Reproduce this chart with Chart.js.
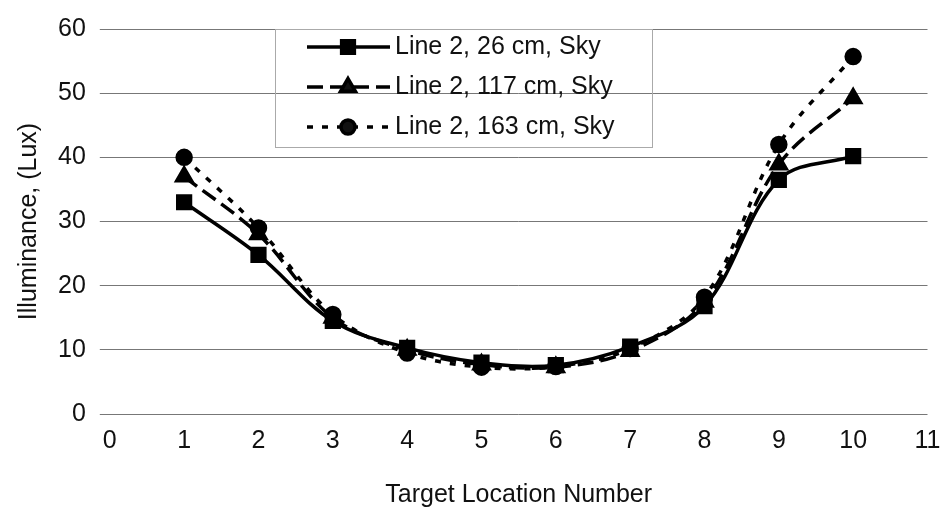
<!DOCTYPE html>
<html>
<head>
<meta charset="utf-8">
<script src="https://cdn.jsdelivr.net/npm/chart.js@4/dist/chart.umd.min.js"></script>
<style>
  html, body { margin: 0; padding: 0; background: #fff; }
  #wrap { width: 940px; height: 514px; }
</style>
</head>
<body>
<div id="wrap"><canvas id="c"></canvas></div>
<script>
// valeurs
const locations = [1, 2, 3, 4, 5, 6, 7, 8, 9, 10];
const labels = ['Line 2, 26 cm, Sky', 'Line 2, 117 cm, Sky', 'Line 2, 163 cm, Sky'];
const lux26 = [33, 24.8, 14.5, 10.3, 8, 7.6, 10.5, 16.8, 36.5, 40.2];
const lux117 = [37, 28, 15, 10, 7.7, 7.3, 9.8, 17.5, 38.9, 49.2];
const lux163 = [40, 29, 15.5, 9.5, 7.3, 7.4, 10.2, 18.2, 42, 55.7];
const xTicks = [0, 1, 2, 3, 4, 5, 6, 7, 8, 9, 10, 11];
const yTicks = [0, 10, 20, 30, 40, 50, 60];

const FONT = 'Liberation Sans, Arial, sans-serif';
const INK = '#111';

function toPoints(values) {
    return locations.map((x, i) => ({x: x, y: values[i]}));
}

// légende dessinée à la main : trait + marqueur comme dans Excel
const legendBox = {
    id: 'legendBox',
    afterDraw(chart) {
        const ctx = chart.ctx;
        const left = 275, top = 29, width = 377, height = 118;
        ctx.save();
        ctx.strokeStyle = '#aaa';
        ctx.lineWidth = 1;
        ctx.strokeRect(left + 0.5, top + 0.5, width, height);
        chart.data.datasets.forEach((ds, i) => {
            const y = 47 + i * 40;
            ctx.strokeStyle = ds.borderColor;
            ctx.lineWidth = ds.borderWidth;
            ctx.setLineDash(ds.borderDash || []);
            ctx.beginPath();
            ctx.moveTo(307, y);
            ctx.lineTo(390, y);
            ctx.stroke();
            ctx.setLineDash([]);
            Chart.helpers.drawPoint(ctx, {
                pointStyle: ds.pointStyle,
                radius: ds.pointRadius,
                borderWidth: 1,
                rotation: 0
            }, 348, y);
            ctx.fillStyle = INK;
            ctx.font = '25px ' + FONT;
            ctx.textBaseline = 'middle';
            ctx.textAlign = 'left';
            ctx.fillText(labels[i], 395, y);
        });
        ctx.restore();
    }
};

const common = {
    borderColor: '#000',
    backgroundColor: '#000',
    pointBackgroundColor: '#000',
    pointBorderColor: '#000',
    borderWidth: 3.5,
    tension: 0.35,
    fill: false,
    showLine: true
};

new Chart(document.getElementById('c'), {
    type: 'scatter',
    data: {
        datasets: [
            Object.assign({}, common, {
                label: labels[0],
                data: toPoints(lux26),
                pointStyle: 'rect',
                pointRadius: 9
            }),
            Object.assign({}, common, {
                label: labels[1],
                data: toPoints(lux117),
                borderDash: [16, 7],
                pointStyle: 'triangle',
                pointRadius: 8.5
            }),
            Object.assign({}, common, {
                label: labels[2],
                data: toPoints(lux163),
                borderDash: [6, 9],
                pointStyle: 'circle',
                pointRadius: 7
            })
        ]
    },
    options: {
        responsive: true,
        maintainAspectRatio: false,
        animation: false,
        layout: { padding: { top: 18, right: 12, left: 14, bottom: 4 } },
        scales: {
            x: {
                type: 'linear',
                min: 0,
                max: 11,
                afterBuildTicks: axis => { axis.ticks = xTicks.map(v => ({value: v})); },
                // le label "11" peut déborder un peu à droite
                afterFit: axis => { axis.paddingRight = 0; },
                grid: { display: false },
                border: { display: false },
                ticks: { color: INK, font: { family: FONT, size: 25 }, padding: 4 },
                title: {
                    display: true,
                    text: 'Target Location Number',
                    color: INK,
                    font: { family: FONT, size: 25 },
                    padding: { top: 20, bottom: 0 }
                }
            },
            y: {
                min: 0,
                max: 60,
                afterBuildTicks: axis => { axis.ticks = yTicks.map(v => ({value: v})); },
                grid: { color: '#777', lineWidth: 1, tickLength: 10 },
                border: { display: false },
                ticks: { color: INK, font: { family: FONT, size: 25 }, padding: 14 },
                title: {
                    display: true,
                    text: 'Illuminance, (Lux)',
                    color: INK,
                    font: { family: FONT, size: 25 },
                    padding: { top: 0, bottom: 0 }
                }
            }
        },
        plugins: {
            legend: { display: false },
            tooltip: { enabled: false }
        }
    },
    plugins: [legendBox]
});
</script>
</body>
</html>
